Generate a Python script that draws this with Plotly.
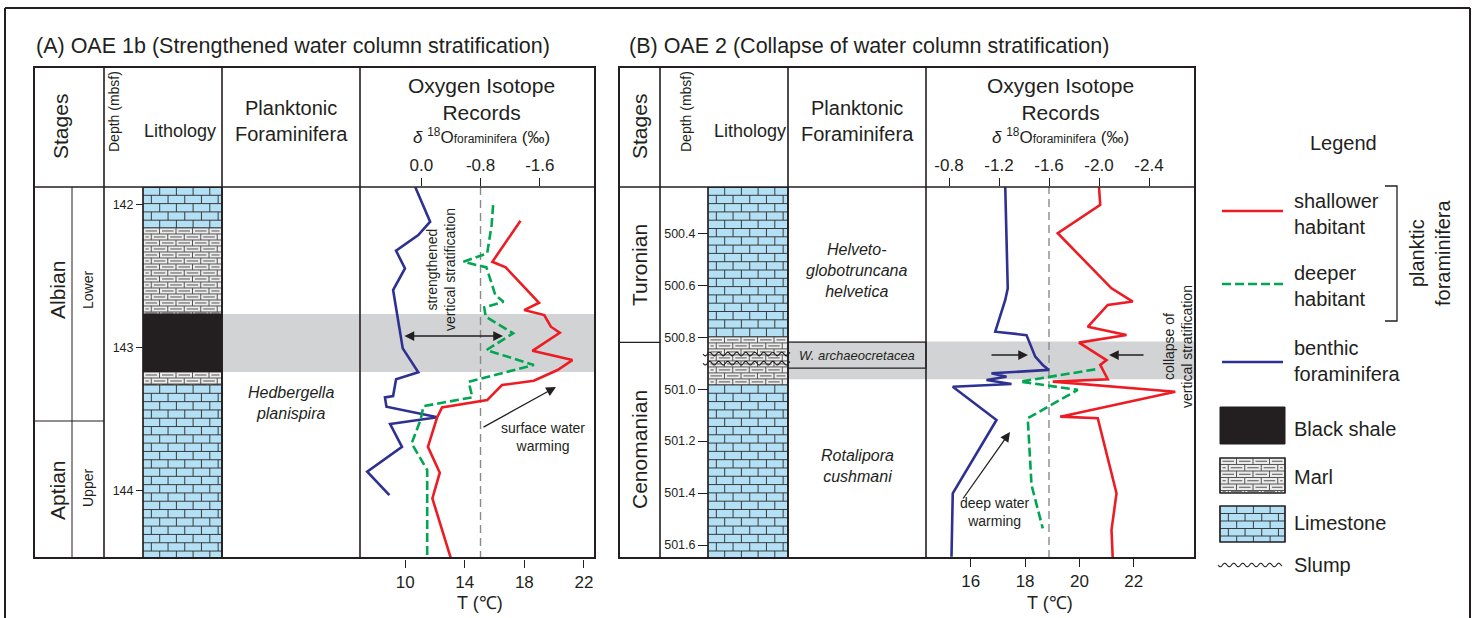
import math
import plotly.graph_objects as go

W, H = 1478, 618
INK = "#231f20"
RED = "#ed1c24"
GREEN = "#00a651"
BLUE = "#2e3192"
LIME = "#b3e0f4"
MARL_BG = "#ececec"
MARL_LN = "#555555"
BAND = "#d1d3d4"
FONT = "Liberation Sans, Arial, Helvetica, sans-serif"

# ---------------- data ----------------
# Panel A (OAE 1b): depth (mbsf) and d18O (permil)
a_benthic_depth = [141.881, 142.121, 142.214, 142.324, 142.447, 142.598, 143.005, 143.172, 143.221,
                   143.338, 143.347, 143.412, 143.486, 143.533, 143.692, 143.866, 144.029]
a_benthic_d18o = [0.08, -0.12, 0.04, 0.34, 0.22, 0.38, 0.25, 0.04, 0.34,
                  0.38, 0.49, 0.47, -0.22, 0.42, 0.26, 0.73, 0.43]
a_deep_depth = [142.005, 142.144, 142.342, 142.401, 142.440, 142.633, 142.680, 142.719, 142.784, 142.900,
                143.017, 143.121, 143.238, 143.347, 143.408, 143.505, 143.668, 143.854, 144.447]
a_deep_d18o = [-0.97, -0.95, -0.89, -0.57, -0.88, -1.00, -1.11, -0.85, -0.87, -1.24,
               -0.88, -1.52, -0.64, -0.69, -0.03, 0.01, 0.13, -0.08, -0.08]
a_shallow_depth = [142.114, 142.401, 142.440, 142.687, 142.738, 142.773, 142.854, 142.896, 143.022, 143.087,
                   143.156, 143.231, 143.261, 143.366, 143.417, 143.493, 143.692, 143.873, 144.052, 144.470]
a_shallow_d18o = [-1.34, -0.96, -1.14, -1.59, -1.39, -1.66, -1.75, -1.87, -1.50, -2.04,
                  -1.84, -1.52, -1.09, -0.89, -0.28, -0.21, -0.09, -0.25, -0.15, -0.40]

# Panel B (OAE 2)
b_benthic_depth = [500.223, 500.612, 500.657, 500.779, 500.792, 500.875, 500.907, 500.926, 500.939,
                   500.952, 500.965, 500.980, 500.991, 501.119, 501.401, 501.645]
b_benthic_d18o = [-1.25, -1.27, -1.25, -1.17, -1.42, -1.49, -1.55, -1.60, -1.14,
                  -1.26, -1.10, -1.30, -0.83, -1.18, -0.83, -0.82]
b_shallow_depth = [500.223, 500.291, 500.400, 500.612, 500.663, 500.676, 500.760, 500.792, 500.821, 500.888,
                   500.907, 500.962, 500.971, 501.010, 501.106, 501.112, 501.401, 501.542, 501.651]
b_shallow_d18o = [-2.00, -2.01, -1.67, -2.10, -2.27, -2.07, -1.91, -2.22, -1.84, -2.06,
                  -2.01, -2.07, -1.63, -2.61, -1.69, -1.99, -2.14, -2.10, -2.11]
b_deep_depth = [500.924, 500.971, 501.003, 501.112, 501.369, 501.536]
b_deep_d18o = [-1.97, -1.37, -1.83, -1.43, -1.46, -1.55]

# Lithology
a_lith_top = [141.879, 142.165, 142.766, 143.170, 143.261]
a_lith_base = [142.165, 142.766, 143.170, 143.261, 144.475]
a_lith_type = ["limestone", "marl", "black shale", "marl", "limestone"]
b_lith_top = [500.222, 500.799, 500.984]
b_lith_base = [500.799, 500.984, 501.650]
b_lith_type = ["limestone", "marl", "limestone"]
b_slump_depth = [500.865, 500.900]

# OAE intervals, boundaries
a_oae = [142.766, 143.170]
b_oae = [500.817, 500.962]
a_stage_boundary = 143.512
b_stage_boundary = 500.820
b_zone_box = [500.819, 500.919]
a_ref_d18o = -0.8
b_ref_d18o = -1.6

# Ticks
a_depth_ticks = [142, 143, 144]
b_depth_ticks = [500.4, 500.6, 500.8, 501.0, 501.2, 501.4, 501.6]
a_d18o_ticks = [0.0, -0.8, -1.6]
a_temp_ticks = [10, 14, 18, 22]
b_d18o_ticks = [-0.8, -1.2, -1.6, -2.0, -2.4]
b_temp_ticks = [16, 18, 20, 22]

# Axis ranges
A_RANGE_Y = [144.475, 141.879]
B_RANGE_Y = [501.650, 500.222]
A_RANGE_D18O = [0.827, -2.332]
A_RANGE_T = [6.966, 22.677]
B_RANGE_D18O = [-0.616, -2.760]
B_RANGE_T = [14.353, 24.217]


def px(x):
    return x / W


def py(y):
    return 1 - y / H


A_X0, A_X1, A_YT, A_YB = 360, 594, 187, 559
B_X0, B_X1, B_YT, B_YB = 926, 1194, 187, 558
A_PPM = (A_YB - A_YT) / (A_RANGE_Y[0] - A_RANGE_Y[1])
B_PPM = (B_YB - B_YT) / (B_RANGE_Y[0] - B_RANGE_Y[1])

shapes = []


def hline(x0, x1, y, w=1.5, yref="paper", color=INK, layer="above"):
    yy = py(y) if yref == "paper" else y
    shapes.append(dict(type="line", xref="paper", yref=yref, x0=px(x0), x1=px(x1), y0=yy, y1=yy,
                       line=dict(color=color, width=w), layer=layer))


def vline(x, y0, y1, w=1.5, color=INK, layer="above"):
    shapes.append(dict(type="line", xref="paper", yref="paper", x0=px(x), x1=px(x), y0=py(y0), y1=py(y1),
                       line=dict(color=color, width=w), layer=layer))


def rect(x0, x1, y0, y1, fill=None, lw=0, lc=INK, yref="paper", layer="below"):
    if yref == "paper":
        y0, y1 = py(y0), py(y1)
    shapes.append(dict(type="rect", xref="paper", yref=yref, x0=px(x0), x1=px(x1), y0=y0, y1=y1,
                       fillcolor=fill if fill else "rgba(0,0,0,0)", line=dict(color=lc, width=lw), layer=layer))


def brick_segs(x0, x1, y0, y1, rh, bw, dashes=False, gap=2.5):
    segs = []
    k = 0
    ya = y0
    while ya < y1 - rh * 0.15:
        yb = min(ya + rh, y1)
        if k > 0:
            segs.append(((x0, ya), (x1, ya)))
        off = bw / 2 if k % 2 else 0.0
        xs = []
        xv = x0 + off
        while xv < x1 - 0.8:
            if xv > x0 + 0.8:
                xs.append(xv)
            xv += bw
        for xv in xs:
            segs.append(((xv, ya), (xv, yb)))
        if dashes:
            edges = [x0] + xs + [x1]
            ym = (ya + yb) / 2
            for l, r in zip(edges[:-1], edges[1:]):
                if r - l > 2 * gap + 2:
                    segs.append(((l + gap, ym), (r - gap, ym)))
        k += 1
        ya = yb
    return segs


def seg_path(segs, fy):
    return "".join(f"M{px(a):.6f},{fy(b):.6f}L{px(c):.6f},{fy(d):.6f}" for (a, b), (c, d) in segs)


def draw_lith(x0, x1, tops, bases, kinds, yref, ppm):
    fy = (lambda v: v) if yref != "paper" else py
    for t, b, kind in zip(tops, bases, kinds):
        if kind == "limestone":
            rect(x0, x1, t, b, fill=LIME, lw=0.8, yref=yref)
            segs = brick_segs(x0, x1, t, b, 8.3 / ppm, 16.7)
            shapes.append(dict(type="path", xref="paper", yref=yref, path=seg_path(segs, fy),
                               line=dict(color="#2a2a2a", width=0.9), layer="below"))
        elif kind == "marl":
            rect(x0, x1, t, b, fill=MARL_BG, lw=0.8, yref=yref)
            segs = brick_segs(x0, x1, t, b, 6.0 / ppm, 16.5, dashes=True)
            shapes.append(dict(type="path", xref="paper", yref=yref, path=seg_path(segs, fy),
                               line=dict(color=MARL_LN, width=1.0), layer="below"))
        else:
            rect(x0, x1, t, b, fill=INK, lw=0.8, yref=yref)
    rect(x0, x1, tops[0], bases[-1], lw=1.5, yref=yref, layer="above")


def wave_path(x0, x1, y, fy, amp, period):
    n = int((x1 - x0) * 2)
    pts = []
    for i in range(n + 1):
        x = x0 + (x1 - x0) * i / n
        pts.append((x, y + amp * math.sin(2 * math.pi * (x - x0) / period)))
    return "M" + "L".join(f"{px(a):.6f},{fy(b):.6f}" for a, b in pts)


# ---- OAE gray bands ----
rect(222, 595, a_oae[0], a_oae[1], fill=BAND, yref="y")
rect(788, 1195, b_oae[0], b_oae[1], fill=BAND, yref="y2")

# ---- Lithology columns ----
draw_lith(143, 222, a_lith_top, a_lith_base, a_lith_type, "y", A_PPM)
draw_lith(708, 788, b_lith_top, b_lith_base, b_lith_type, "y2", B_PPM)
for d in b_slump_depth:
    shapes.append(dict(type="path", xref="paper", yref="y2",
                       path=wave_path(703, 790, d, lambda v: v, 1.8 / B_PPM, 9),
                       line=dict(color=INK, width=1.1), layer="above"))

# ---- dashed reference lines ----
shapes.append(dict(type="line", xref="x", yref="paper", x0=a_ref_d18o, x1=a_ref_d18o, y0=py(A_YB), y1=py(A_YT),
                   line=dict(color="#8a8a8a", width=1.4, dash="8px,5px"), layer="below"))
shapes.append(dict(type="line", xref="x3", yref="paper", x0=b_ref_d18o, x1=b_ref_d18o, y0=py(B_YB), y1=py(B_YT),
                   line=dict(color="#8a8a8a", width=1.4, dash="8px,5px"), layer="below"))

# ---- Frames panel A ----
rect(34, 595, 67, 558, lw=2, layer="above")
hline(34, 595, 187, 1.6)
for xx in (104, 222, 360):
    vline(xx, 67, 558, 1.6)
vline(72, 187, 558, 1.0)
hline(34, 104, a_stage_boundary, 1.2, yref="y")

# ---- Frames panel B ----
rect(619, 1195, 67, 558, lw=2, layer="above")
hline(619, 1195, 187, 1.6)
for xx in (660, 788, 926):
    vline(xx, 67, 558, 1.6)
hline(619, 660, b_stage_boundary, 1.4, yref="y2")
rect(788, 926, b_zone_box[0], b_zone_box[1], lw=1.1, yref="y2", layer="above")

# ---- outer figure border ----
vline(5, 8, 618, 2)
vline(1470, 8, 618, 2)
hline(5, 1470, 8, 2)

# ---- Legend graphics ----
hline(1222, 1283, 211, 2.6, color=RED)
shapes.append(dict(type="line", xref="paper", yref="paper", x0=px(1222), x1=px(1283), y0=py(284), y1=py(284),
                   line=dict(color=GREEN, width=2.6, dash="9px,4px")))
hline(1222, 1283, 362, 2.6, color=BLUE)
shapes.append(dict(type="path", xref="paper", yref="paper",
                   path=f"M{px(1385)},{py(186)}L{px(1397)},{py(186)}L{px(1397)},{py(321)}L{px(1385)},{py(321)}",
                   line=dict(color=INK, width=1.3)))
rect(1220, 1285, 407, 444, fill=INK, lw=1, layer="above")
# marl swatch
rect(1220, 1285, 458, 493, fill=MARL_BG, lw=1.2, layer="above")
shapes.append(dict(type="path", xref="paper", yref="paper",
                   path=seg_path(brick_segs(1220, 1285, 458, 493, 6.5, 16.5, dashes=True), py),
                   line=dict(color=MARL_LN, width=1.0)))
rect(1220, 1285, 506, 542, fill=LIME, lw=1.2, layer="above")
shapes.append(dict(type="path", xref="paper", yref="paper",
                   path=seg_path(brick_segs(1220, 1285, 506, 542, 7.5, 16.7), py),
                   line=dict(color="#2a2a2a", width=0.9)))
rect(1220, 1285, 458, 493, lw=1.2, layer="above")
rect(1220, 1285, 506, 542, lw=1.2, layer="above")
shapes.append(dict(type="path", xref="paper", yref="paper", path=wave_path(1218, 1282, 565, py, 1.8, 9),
                   line=dict(color=INK, width=1.1)))

# ---------------- traces ----------------
fig = go.Figure()


def curve(x, y, xa, ya, color, dash=None):
    fig.add_trace(go.Scatter(x=x, y=y, xaxis=xa, yaxis=ya, mode="lines",
                             line=dict(color=color, width=2.6, dash=dash),
                             showlegend=False, hoverinfo="skip"))


curve(a_benthic_d18o, a_benthic_depth, "x", "y", BLUE)
curve(a_deep_d18o, a_deep_depth, "x", "y", GREEN, "9px,4px")
curve(a_shallow_d18o, a_shallow_depth, "x", "y", RED)
curve(b_benthic_d18o, b_benthic_depth, "x3", "y2", BLUE)
curve(b_deep_d18o, b_deep_depth, "x3", "y2", GREEN, "9px,4px")
curve(b_shallow_d18o, b_shallow_depth, "x3", "y2", RED)
# carriers for the temperature axes
fig.add_trace(go.Scatter(x=a_temp_ticks, y=[143.0] * len(a_temp_ticks), xaxis="x2", yaxis="y", mode="markers",
                         marker=dict(opacity=0), showlegend=False, hoverinfo="skip"))
fig.add_trace(go.Scatter(x=b_temp_ticks, y=[501.0] * len(b_temp_ticks), xaxis="x4", yaxis="y2", mode="markers",
                         marker=dict(opacity=0), showlegend=False, hoverinfo="skip"))

# ---------------- text ----------------
ann = []


def T(x, y, text, size=21, angle=0, xa="center", ya="middle", italic=False, align="center"):
    f = dict(family=FONT, size=size, color=INK)
    if italic:
        f["style"] = "italic"
    ann.append(dict(x=px(x), y=py(y), xref="paper", yref="paper", text=text, showarrow=False, font=f,
                    textangle=angle, xanchor=xa, yanchor=ya, align=align))


def arrow(hx, hy, tx, ty, both=False):
    d = dict(x=px(hx), y=py(hy), xref="paper", yref="paper", ax=tx - hx, ay=ty - hy, axref="pixel",
             ayref="pixel", showarrow=True, text="", arrowhead=2, arrowsize=1.5, arrowwidth=1.3,
             arrowcolor=INK, standoff=0, startstandoff=0)
    if both:
        d.update(arrowside="end+start", startarrowhead=2, startarrowsize=1.5)
    ann.append(d)


delta = "<i>δ</i> <sup>18</sup>O<span style='font-size:12px'>foraminifera</span> (‰)"

# Panel A
T(34, 46, "(A) OAE 1b (Strengthened water column stratification)", 21.5, xa="left")
T(60, 127, "Stages", 21, -90)
T(114, 112, "Depth (mbsf)", 14, -90)
T(180, 131, "Lithology", 18)
T(291, 121, "Planktonic<br>Foraminifera", 20)
T(481, 99, "Oxygen Isotope<br>Records", 21)
T(481, 136, delta, 17)
T(57, 290, "Albian", 21, -90)
T(88, 290, "Lower", 14, -90)
T(57, 490, "Aptian", 21, -90)
T(88, 488, "Upper", 14, -90)
T(291, 403, "Hedbergella<br>planispira", 16, italic=True)
T(441, 270, "strengthened<br>vertical stratification", 14, -90)
T(543, 437, "surface water<br>warming", 14)
T(480, 603, "T (℃)", 18)
arrow(503, 336, 403, 336, both=True)
arrow(556, 387, 482, 428)

# Panel B
T(627, 46, "(B) OAE 2 (Collapse of water column stratification)", 21.5, xa="left")
T(639, 127, "Stages", 21, -90)
T(686, 112, "Depth (mbsf)", 14, -90)
T(750, 131, "Lithology", 18)
T(857, 121, "Planktonic<br>Foraminifera", 20)
T(1060, 99, "Oxygen Isotope<br>Records", 21)
T(1060, 136, delta, 17)
T(639, 265, "Turonian", 21, -90)
T(639, 450, "Cenomanian", 21, -90)
T(857, 271, "Helveto-<br>globotruncana<br>helvetica", 16, italic=True)
T(857, 355, "W. archaeocretacea", 13, italic=True)
T(857, 466, "Rotalipora<br>cushmani", 16, italic=True)
T(1178, 347, "collapse of<br>vertical stratification", 14, -90)
T(995, 512, "deep water<br>warming", 14)
T(1050, 603, "T (℃)", 18)
arrow(1028, 355, 990, 355)
arrow(1109, 355, 1145, 355)
arrow(1010, 432, 962, 500)

# Legend
T(1343, 143, "Legend", 20)
T(1292, 214, "shallower<br>habitant", 20, xa="left", align="left")
T(1292, 286, "deeper<br>habitant", 20, xa="left", align="left")
T(1292, 361, "benthic<br>foraminifera", 20, xa="left", align="left")
T(1292, 429, "Black shale", 20, xa="left")
T(1292, 477, "Marl", 20, xa="left")
T(1292, 523, "Limestone", 20, xa="left")
T(1292, 565, "Slump", 20, xa="left")
T(1430, 253, "planktic<br>foraminifera", 20, -90)

# ---------------- axes ----------------
base = dict(showgrid=False, zeroline=False, showline=False, ticks="outside", tickcolor=INK, tickwidth=1.2,
            tickfont=dict(family=FONT, size=17, color=INK), fixedrange=True)

layout_axes = dict(
    xaxis=dict(base, domain=[px(A_X0), px(A_X1)], range=A_RANGE_D18O, side="top", anchor="y",
               tickvals=a_d18o_ticks, ticktext=[f"{v:.1f}" for v in a_d18o_ticks], ticklen=8),
    xaxis2=dict(base, domain=[px(A_X0), px(A_X1)], range=A_RANGE_T, side="bottom", anchor="y",
                overlaying="x", tickvals=a_temp_ticks, ticklen=8),
    yaxis=dict(base, domain=[py(A_YB), py(A_YT)], range=A_RANGE_Y, anchor="free", position=px(143),
               side="left", tickvals=a_depth_ticks, ticklen=7,
               tickfont=dict(family=FONT, size=12.5, color=INK)),
    xaxis3=dict(base, domain=[px(B_X0), px(B_X1)], range=B_RANGE_D18O, side="top", anchor="y2",
                tickvals=b_d18o_ticks, ticktext=[f"{v:.1f}" for v in b_d18o_ticks], ticklen=8),
    xaxis4=dict(base, domain=[px(B_X0), px(B_X1)], range=B_RANGE_T, side="bottom", anchor="y2",
                overlaying="x3", tickvals=b_temp_ticks, ticklen=8),
    yaxis2=dict(base, domain=[py(B_YB), py(B_YT)], range=B_RANGE_Y, anchor="free", position=px(708),
                side="left", tickvals=b_depth_ticks, ticktext=[f"{v:.1f}" for v in b_depth_ticks],
                ticklen=10, tickfont=dict(family=FONT, size=12.5, color=INK)),
)

fig.update_layout(
    width=W, height=H, margin=dict(l=0, r=0, t=0, b=0, autoexpand=False),
    paper_bgcolor="white", plot_bgcolor="rgba(0,0,0,0)",
    shapes=shapes, annotations=ann, showlegend=False,
    font=dict(family=FONT, color=INK),
    **layout_axes,
)

fig.write_html("out.html", config={"displayModeBar": False},
               post_script="document.body.style.margin='0';document.body.style.overflow='hidden';")
